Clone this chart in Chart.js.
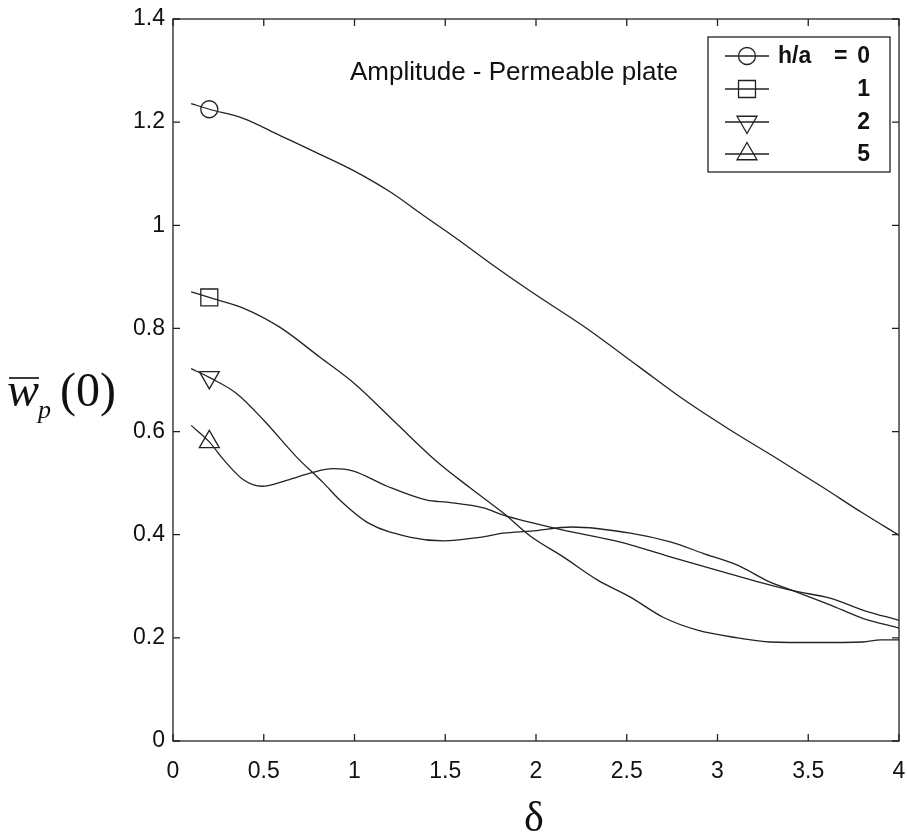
<!DOCTYPE html>
<html><head><meta charset="utf-8">
<script src="https://cdn.jsdelivr.net/npm/chart.js@4.4.1/dist/chart.umd.min.js"></script>
<style>html,body{margin:0;padding:0;background:#fff;} #wrap{width:907px;height:837px;position:relative;}</style>
</head><body><div id="wrap"><canvas id="c" width="907" height="837"></canvas></div>
<script>
// ---- data ----
const seriesLabels = ['0', '1', '2', '5'];   // h/a values
const markerDelta = 0.2;                      // where each curve carries its marker

const delta0 = [0.1, 0.2, 0.39, 0.59, 0.79, 0.99, 1.2, 1.38, 1.56, 1.75, 1.97, 2.28, 2.57, 2.81, 3.07, 3.34, 3.58, 3.8, 4.0];
const amp0   = [1.236, 1.225, 1.207, 1.174, 1.141, 1.107, 1.064, 1.019, 0.975, 0.926, 0.872, 0.800, 0.725, 0.663, 0.603, 0.545, 0.492, 0.442, 0.399];

const delta1 = [0.1, 0.2, 0.39, 0.59, 0.81, 1.01, 1.23, 1.45, 1.64, 1.82, 1.97, 2.15, 2.34, 2.52, 2.70, 2.89, 3.11, 3.29, 3.55, 3.80, 3.90, 4.0];
const amp1   = [0.871, 0.860, 0.839, 0.802, 0.744, 0.690, 0.616, 0.543, 0.490, 0.442, 0.397, 0.357, 0.312, 0.279, 0.240, 0.215, 0.200, 0.192, 0.191, 0.192, 0.196, 0.196];

const delta2 = [0.1, 0.2, 0.35, 0.50, 0.68, 0.83, 0.92, 1.08, 1.31, 1.49, 1.69, 1.82, 1.97, 2.20, 2.52, 2.74, 2.92, 3.11, 3.29, 3.42, 3.62, 3.80, 4.0];
const amp2   = [0.722, 0.705, 0.674, 0.622, 0.551, 0.500, 0.467, 0.422, 0.395, 0.388, 0.395, 0.403, 0.407, 0.415, 0.403, 0.386, 0.364, 0.341, 0.308, 0.291, 0.264, 0.238, 0.219];

const delta5 = [0.1, 0.2, 0.28, 0.39, 0.49, 0.63, 0.77, 0.88, 0.99, 1.18, 1.40, 1.51, 1.71, 1.82, 1.97, 2.15, 2.46, 2.74, 3.0, 3.25, 3.42, 3.62, 3.80, 4.0];
const amp5   = [0.612, 0.580, 0.545, 0.506, 0.494, 0.506, 0.521, 0.528, 0.524, 0.494, 0.467, 0.463, 0.452, 0.438, 0.424, 0.409, 0.386, 0.357, 0.331, 0.306, 0.291, 0.277, 0.254, 0.234];

const xTicks = [0, 0.5, 1, 1.5, 2, 2.5, 3, 3.5, 4];
const yTicks = [0, 0.2, 0.4, 0.6, 0.8, 1, 1.2, 1.4];

// ---- styling ----
const INK = '#222';
const SANS = "'Liberation Sans', Arial, sans-serif";
const SERIF = "'Liberation Serif', 'Times New Roman', serif";
const markers = [
  {style: 'circle', r: 8.5, rot: 0},
  {style: 'rect', r: 12, rot: 0},
  {style: 'triangle', r: 11.5, rot: 180},
  {style: 'triangle', r: 11.5, rot: 0}
];

function pts(xs, ys) { return xs.map((x, i) => ({x: x, y: ys[i]})); }
function fmt(v) { return String(Math.round(v * 100) / 100); }
const allX = [delta0, delta1, delta2, delta5];
const allY = [amp0, amp1, amp2, amp5];

const datasets = allX.map((xs, k) => ({
  label: 'h/a = ' + seriesLabels[k],
  data: pts(xs, allY[k]),
  showLine: true,
  borderColor: INK,
  borderWidth: 1.3,
  cubicInterpolationMode: 'monotone',
  pointStyle: markers[k].style,
  rotation: markers[k].rot,
  pointRadius: ctx => (ctx.raw && ctx.raw.x === markerDelta) ? markers[k].r : 0,
  pointHoverRadius: 0,
  pointBorderColor: INK,
  pointBackgroundColor: 'rgba(0,0,0,0)',
  pointBorderWidth: 1.3,
  fill: false
}));

function drawMarker(ctx, style, x, y, r, rot) {
  ctx.beginPath();
  if (style === 'circle') {
    ctx.arc(x, y, r, 0, Math.PI * 2);
  } else if (style === 'rect') {
    const s = r * Math.SQRT1_2;
    ctx.rect(x - s, y - s, 2 * s, 2 * s);
  } else {
    let a = rot * Math.PI / 180;
    ctx.moveTo(x + Math.sin(a) * r, y - Math.cos(a) * r);
    for (let i = 0; i < 2; i++) {
      a += 2 * Math.PI / 3;
      ctx.lineTo(x + Math.sin(a) * r, y - Math.cos(a) * r);
    }
    ctx.closePath();
  }
  ctx.stroke();
}

const framePlugin = {
  id: 'frame',
  afterDraw(chart) {
    const ctx = chart.ctx, a = chart.chartArea;
    const xs = chart.scales.x, ys = chart.scales.y;
    ctx.save();
    ctx.strokeStyle = INK;
    ctx.lineWidth = 1.3;
    ctx.strokeRect(a.left, a.top, a.right - a.left, a.bottom - a.top);
    const tl = 7;
    ctx.beginPath();
    xTicks.forEach(v => {
      const px = xs.getPixelForValue(v);
      ctx.moveTo(px, a.bottom); ctx.lineTo(px, a.bottom - tl);
      ctx.moveTo(px, a.top); ctx.lineTo(px, a.top + tl);
    });
    yTicks.forEach(v => {
      const py = ys.getPixelForValue(v);
      ctx.moveTo(a.left, py); ctx.lineTo(a.left + tl, py);
      ctx.moveTo(a.right, py); ctx.lineTo(a.right - tl, py);
    });
    ctx.stroke();

    // annotation inside the axes
    ctx.fillStyle = '#111';
    ctx.font = '26px ' + SANS;
    ctx.textAlign = 'left';
    ctx.textBaseline = 'alphabetic';
    ctx.fillText('Amplitude - Permeable plate', 350, 80);

    // legend
    const L = {left: 708, top: 37, right: 890, bottom: 172};
    ctx.fillStyle = '#fff';
    ctx.fillRect(L.left, L.top, L.right - L.left, L.bottom - L.top);
    ctx.lineWidth = 1.3;
    ctx.strokeRect(L.left, L.top, L.right - L.left, L.bottom - L.top);
    const rows = [56, 89, 122, 154];
    ctx.font = 'bold 23px ' + SANS;
    ctx.fillStyle = '#111';
    ctx.textBaseline = 'middle';
    rows.forEach((ry, k) => {
      ctx.beginPath();
      ctx.moveTo(725, ry); ctx.lineTo(769, ry);
      ctx.stroke();
      drawMarker(ctx, markers[k].style, 747, ry, markers[k].r, markers[k].rot);
      ctx.textAlign = 'right';
      ctx.fillText(seriesLabels[k], 870, ry + 1);
    });
    ctx.textAlign = 'left';
    ctx.fillText('h/a', 778, rows[0] + 1);
    ctx.fillText('=', 834, rows[0] + 1);

    // y-axis title: w̄_p(0)
    ctx.textBaseline = 'alphabetic';
    ctx.textAlign = 'left';
    ctx.font = 'italic 48px ' + SERIF;
    ctx.fillText('w', 7, 406);
    const ww = ctx.measureText('w').width;
    ctx.lineWidth = 1.8;
    ctx.beginPath();
    ctx.moveTo(9, 378); ctx.lineTo(7 + ww, 378);
    ctx.stroke();
    ctx.font = 'italic 26px ' + SERIF;
    ctx.fillText('p', 38, 418);
    ctx.font = '48px ' + SERIF;
    ctx.fillText('(0)', 60, 406);

    // x-axis title
    ctx.font = '42px ' + SERIF;
    ctx.textAlign = 'center';
    ctx.fillText('\u03b4', (a.left + a.right) / 2 - 2, 831);
    ctx.restore();
  }
};

new Chart(document.getElementById('c'), {
  type: 'scatter',
  data: {datasets: datasets},
  options: {
    responsive: false,
    animation: false,
    events: [],
    layout: {padding: {top: 19, right: 8, left: 0, bottom: 0}},
    plugins: {legend: {display: false}, title: {display: false}, tooltip: {enabled: false}},
    scales: {
      x: {
        type: 'linear', min: 0, max: 4,
        afterFit: s => { s.height = 96; s.paddingLeft = 0; s.paddingRight = 0; },
        afterBuildTicks: s => { s.ticks = xTicks.map(v => ({value: v})); },
        grid: {display: false, drawTicks: false},
        border: {display: false},
        ticks: {color: '#111', font: {family: SANS, size: 23}, padding: 17, maxRotation: 0, callback: v => fmt(v)}
      },
      y: {
        type: 'linear', min: 0, max: 1.4,
        afterFit: s => { s.width = 173; s.paddingTop = 0; s.paddingBottom = 0; },
        afterBuildTicks: s => { s.ticks = yTicks.map(v => ({value: v})); },
        grid: {display: false, drawTicks: false},
        border: {display: false},
        ticks: {color: '#111', font: {family: SANS, size: 23}, padding: 8, callback: v => fmt(v)}
      }
    }
  },
  plugins: [framePlugin]
});
</script>
</body></html>
